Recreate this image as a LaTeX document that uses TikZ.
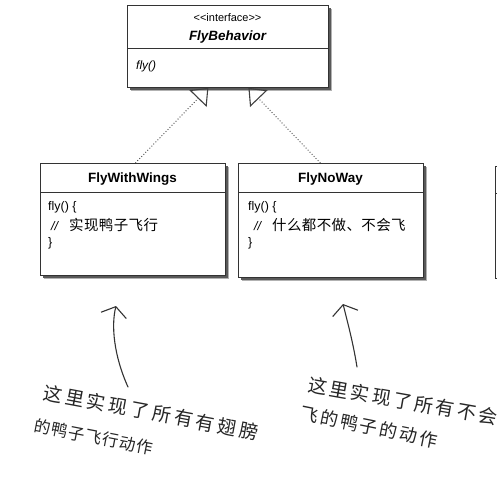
\documentclass[tikz,border=0pt]{standalone}
\usepackage{fontspec}
\setmainfont{Liberation Sans}
\newfontfamily\cjkbox[LetterSpace=3]{Noto Sans CJK SC}
\newfontfamily\handA[LetterSpace=17]{Noto Sans CJK SC}
\newfontfamily\handB[LetterSpace=5]{Noto Sans CJK SC}
\newfontfamily\handC[LetterSpace=14]{Noto Sans CJK SC}
\newfontfamily\handD[LetterSpace=13]{Noto Sans CJK SC}
\usetikzlibrary{arrows.meta,shadows}
\begin{document}
\begin{tikzpicture}[x=1bp,y=-1bp,
  umlbox/.style={draw=black!80, line width=0.8bp, fill=white, inner sep=0pt, anchor=north west,
    drop shadow={shadow xshift=4bp, shadow yshift=-4bp, fill=black!30, opacity=1},
    drop shadow={shadow xshift=2.5bp, shadow yshift=-2.5bp, fill=black!65, opacity=1}},
  sep/.style={draw=black!80, line width=0.8bp},
  title/.style={font=\fontsize{13.5}{15}\selectfont\bfseries, inner sep=0pt},
  code/.style={font=\fontsize{12.5}{14}\selectfont, anchor=west, inner sep=0pt},
  impl/.style={draw=black!75, dotted, line width=0.9bp,
    -{Triangle[open, length=15bp, width=24bp, line width=1.1bp]}},
  handarrow/.style={draw=black!80, line width=1.1bp, line cap=round,
    -{Straight Barb[length=9bp, width=26bp, line width=1.1bp]}},
  hand/.style={inner sep=0pt, text=black!85}
]
\useasboundingbox (0,0) rectangle (497,482);
\clip (0,0) rectangle (497,482);
\fill[white] (0,0) rectangle (497,482);

% interface box
\node[umlbox, minimum width=201bp, minimum height=82bp] (fb) at (127,5) {};
\draw[sep] (fb.west |- 0,48) -- (fb.east |- 0,48);
\node[inner sep=0pt, font=\fontsize{11}{13}\selectfont] (fbst) at (227.5,18) {<\kern0pt<interface>\kern0pt>};
\node[title, font=\fontsize{13.5}{15}\selectfont\bfseries\itshape] (fbname) at (227.5,37) {FlyBehavior};
\node[code, font=\fontsize{12}{14}\selectfont\itshape] (fbfly) at (136,66) {fly()};

% FlyWithWings
\node[umlbox, minimum width=185bp, minimum height=112bp] (fww) at (40,163) {};
\draw[sep] (fww.west |- 0,192) -- (fww.east |- 0,192);
\node[title] (fwwname) at (132.5,179) {FlyWithWings};
\node[code] (fww1) at (48,207) {fly() \{};
\node[code] (fww2) at (51,225) {\textit{//}\hspace{10bp}{\cjkbox\fontsize{14.5}{16}\selectfont 实现鸭子飞行}};
\node[code] (fww3) at (48,243) {\}};

% FlyNoWay
\node[umlbox, minimum width=185bp, minimum height=114bp] (fnw) at (238,163) {};
\draw[sep] (fnw.west |- 0,192) -- (fnw.east |- 0,192);
\node[title] (fnwname) at (330.5,179) {FlyNoWay};
\node[code] (fnw1) at (248,207) {fly() \{};
\node[code] (fnw2) at (254,225) {\textit{//}\hspace{10bp}{\cjkbox\fontsize{14.5}{16}\selectfont 什么都不做、不会飞}};
\node[code] (fnw3) at (248,243) {\}};

% partial box at right edge
\node[umlbox, minimum width=40bp, minimum height=112bp] (rbox) at (495,166) {};
\draw[sep] (rbox.west |- 0,193) -- (rbox.east |- 0,193);

% implementation connectors
\draw[impl] ([xshift=2.5bp]fww.north) -- ([xshift=-19.5bp]fb.south);
\draw[impl] ([xshift=-10.5bp]fnw.north) -- ([xshift=20.5bp]fb.south);

% handwritten notes
\coordinate (a1s) at (128,387);
\coordinate (a1e) at (116,306);
\draw[handarrow] (a1s) .. controls (114,356) and (111,326) .. (a1e);
\coordinate (a2s) at (357,367);
\coordinate (a2e) at (343,304);
\draw[handarrow] (a2s) .. controls (353,342) and (347,320) .. (a2e);

\node[hand, rotate=-10.6, font=\handA\fontsize{19}{21}\selectfont] (n1a) at (151,412.5) {这里实现了所有有翅膀};
\node[hand, rotate=-11, font=\handB\fontsize{16.5}{18}\selectfont] (n1b) at (94,437) {的鸭子飞行动作};
\node[hand, rotate=-10, font=\handC\fontsize{19}{21}\selectfont] (n2a) at (403,401) {这里实现了所有不会};
\node[hand, rotate=-11.5, font=\handD\fontsize{18}{20}\selectfont] (n2b) at (369,427) {飞的鸭子的动作};
\end{tikzpicture}
\end{document}
